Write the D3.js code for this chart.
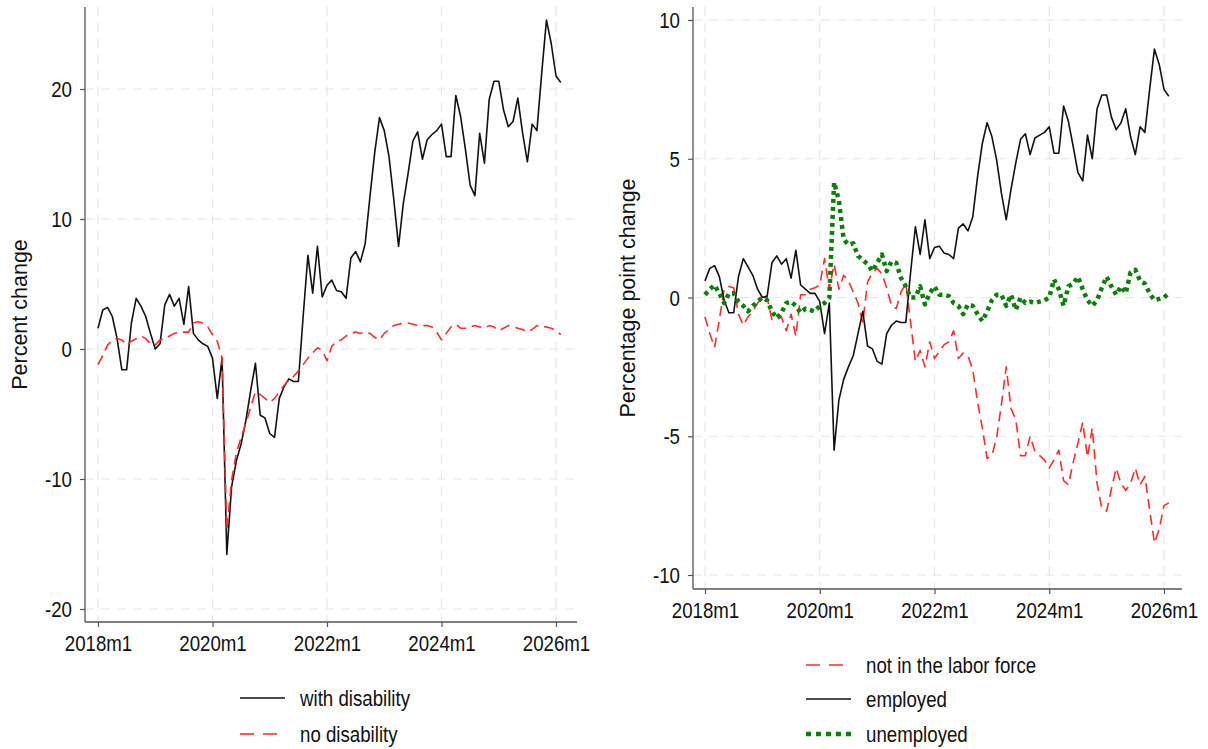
<!DOCTYPE html>
<html>
<head>
<meta charset="utf-8">
<script src="https://cdn.jsdelivr.net/npm/d3@7"></script>
<style>
  body { margin: 0; background: #fff; }
  svg { display: block; }
</style>
</head>
<body>
<svg id="chart"></svg>
<script>
// monthly series, 2018m1 .. 2026m2
const withDisability = [
  1.6, 3.0, 3.2, 2.5, 0.8, -1.6, -1.6, 2.0, 3.9, 3.3, 2.5, 1.2,
  0.0, 0.4, 3.4, 4.2, 3.3, 3.9, 1.9, 4.8, 1.2, 0.7, 0.4, 0.2,
  -0.7, -3.8, -0.7, -15.8, -10.6, -8.6, -7.3, -5.5, -3.2, -1.1, -5.1, -5.3,
  -6.5, -6.8, -3.8, -2.9, -2.3, -2.5, -2.5, 2.5, 7.2, 4.3, 7.9, 4.0,
  4.9, 5.3, 4.5, 4.4, 3.9, 7.0, 7.5, 6.7, 8.1, 11.7, 15.1, 17.8,
  16.8, 14.8, 11.5, 7.9, 11.2, 13.5, 16.0, 16.7, 14.6, 16.1, 16.5, 16.8,
  17.3, 14.8, 14.8, 19.5, 17.9, 15.4, 12.6, 11.8, 16.6, 14.3, 19.2, 20.6,
  20.6, 18.4, 17.1, 17.5, 19.3, 16.6, 14.4, 17.3, 16.8, 21.2, 25.3, 23.5,
  21.0, 20.5
];
const noDisability = [
  -1.2, -0.5, 0.3, 0.7, 0.8, 0.7, 0.3, 0.6, 0.8, 1.0, 0.8, 0.4,
  0.3, 0.7, 0.75, 1.0, 1.2, 1.3, 1.3, 1.3, 2.0, 2.1, 2.0, 1.7,
  1.1, 0.6, -0.7, -13.9, -10.1, -8.0, -6.8, -5.7, -4.5, -3.3, -3.5, -3.8,
  -4.1, -3.8, -3.3, -2.8, -2.4, -2.1, -1.7, -1.2, -0.7, -0.3, 0.1, -0.1,
  -0.9, 0.2, 0.6, 0.7, 1.0, 1.2, 1.3, 1.2, 1.3, 1.2, 0.9, 0.7,
  1.2, 1.5, 1.8, 1.9, 2.0, 2.0, 1.9, 1.8, 1.8, 1.8, 1.7, 1.3,
  0.7, 1.2, 1.7, 1.9, 1.6, 1.6, 1.7, 1.8, 1.7, 1.6, 1.8, 1.7,
  1.4, 1.6, 1.8, 1.7, 1.6, 1.5, 1.3, 1.5, 1.8, 1.7, 1.7, 1.6,
  1.4, 1.1
];
const notInLaborForce = [
  -0.7, -1.3, -1.8, -0.8, 0.3, 0.4, 0.35, -0.6, -1.0, -0.7, -0.5, -0.2,
  0.0, 0.0, -0.8, -0.8, -0.7, -1.2, -0.6, -1.4, 0.1, 0.1, 0.3, 0.35,
  0.45, 1.4, 0.3, 1.2, 0.3, 0.8, 0.6, 0.2, -0.2, -0.9, 0.55, 0.9,
  1.05, 0.85, 0.35, -0.3, -0.4, 0.2, 0.5, -0.9, -2.3, -1.9, -2.5, -1.6,
  -2.2, -1.95, -1.7, -1.6, -1.2, -2.2, -2.0, -2.1, -2.6, -3.75, -4.7, -5.8,
  -5.7, -5.05, -3.85, -2.5, -4.0, -4.4, -5.7, -5.7, -5.0, -5.55, -5.7, -5.85,
  -6.15, -5.85, -5.5, -6.6, -6.75, -5.95, -5.25, -4.5, -5.75, -4.7, -6.7, -7.6,
  -7.7, -6.9, -6.15, -6.7, -6.95, -6.7, -6.15, -6.75, -6.45, -7.65, -8.85, -8.35,
  -7.5, -7.4
];
const employed = [
  0.6, 1.05, 1.15, 0.75, -0.1, -0.55, -0.55, 0.75, 1.4, 1.1, 0.8, 0.3,
  0.0, 0.05, 1.25, 1.5, 1.2, 1.4, 0.7, 1.7, 0.45, 0.3, 0.15, 0.15,
  -0.15, -1.3, -0.2, -5.5, -3.7, -2.95, -2.5, -2.1, -1.3, -0.5, -1.75, -1.85,
  -2.3, -2.4, -1.3, -1.0, -0.85, -0.9, -0.9, 0.9, 2.55, 1.55, 2.8, 1.4,
  1.8, 1.85, 1.6, 1.55, 1.4, 2.5, 2.65, 2.4, 2.9, 4.35, 5.55, 6.3,
  5.8, 4.95, 3.75, 2.8, 3.9, 4.85, 5.7, 5.9, 5.15, 5.75, 5.85, 5.95,
  6.15, 5.2, 5.2, 6.9, 6.35, 5.45, 4.5, 4.2, 5.85, 5.0, 6.8, 7.3,
  7.3, 6.5, 6.05, 6.3, 6.8, 5.8, 5.15, 6.15, 5.95, 7.5, 8.95, 8.4,
  7.5, 7.25
];
const unemployed = [
  0.1, 0.3, 0.45, 0.15, -0.2, 0.15, 0.15, -0.15, -0.3, -0.5, -0.3, -0.15,
  0.0, -0.1, -0.5, -0.75, -0.55, -0.2, -0.15, -0.3, -0.55, -0.4, -0.45, -0.5,
  -0.3, -0.2, 0.0, 4.15, 3.5, 2.1, 1.9, 1.95, 1.5, 1.35, 1.2, 0.95,
  1.25, 1.55, 0.95, 1.3, 1.25, 0.7, 0.4, 0.0, 0.0, 0.4, -0.25, 0.15,
  0.4, 0.1, 0.1, 0.05, -0.2, -0.3, -0.6, -0.25, -0.3, -0.6, -0.85, -0.5,
  -0.1, 0.1, 0.1, -0.3, 0.1, -0.45, 0.0, -0.2, -0.15, -0.2, -0.15, -0.1,
  0.0, 0.65, 0.3, -0.3, 0.4, 0.5, 0.75, 0.3, -0.1, -0.3, -0.1, 0.35,
  0.75, 0.4, 0.1, 0.4, 0.15, 0.9, 1.0, 0.6, 0.5, 0.15, -0.1, -0.05,
  0.0, 0.15
];

const xTickMonths = [0, 24, 48, 72, 96];
const xTickLabels = ["2018m1", "2020m1", "2022m1", "2024m1", "2026m1"];
const leftYTicks = [-20, -10, 0, 10, 20];
const rightYTicks = [-10, -5, 0, 5, 10];

const font = "'Liberation Sans', Arial, sans-serif";
const RED = "#ff2a2a", GREEN = "#0a800a", INK = "#111";
const SQUEEZE = 0.83;

const width = 1208, height = 749;
const svg = d3.select("#chart").attr("width", width).attr("height", height);
svg.append("rect").attr("width", width).attr("height", height).attr("fill", "#fff");

// horizontal texts in the original are narrow; squeeze them to fit
function squeeze(sel) {
  sel.each(function () {
    const w = this.getComputedTextLength();
    d3.select(this).attr("textLength", w * SQUEEZE).attr("lengthAdjust", "spacingAndGlyphs");
  });
}

function drawPanel(p) {
  const g = svg.append("g");
  const x = d3.scaleLinear().domain([0, 96]).range([p.xStart, p.xEnd]);
  const y = d3.scaleLinear().domain(p.yDomain).range(p.yRange);

  // grid
  g.selectAll(".hgrid").data(p.yTicks).enter().append("line")
    .attr("x1", p.left).attr("x2", p.right)
    .attr("y1", d => y(d)).attr("y2", d => y(d))
    .attr("stroke", "#e6e6e6").attr("stroke-width", 1.2).attr("stroke-dasharray", "9,7");
  g.selectAll(".vgrid").data(xTickMonths).enter().append("line")
    .attr("x1", d => x(d)).attr("x2", d => x(d))
    .attr("y1", p.top).attr("y2", p.bottom)
    .attr("stroke", "#e6e6e6").attr("stroke-width", 1.2).attr("stroke-dasharray", "9,7");

  // axes
  const ya = g.append("g").attr("transform", `translate(${p.left},0)`)
    .call(d3.axisLeft(y).tickValues(p.yTicks).tickSize(5).tickPadding(8).tickFormat(d => String(d)));
  ya.select(".domain").remove();
  const xa = g.append("g").attr("transform", `translate(0,${p.bottom})`)
    .call(d3.axisBottom(x).tickValues(xTickMonths).tickSize(5).tickPadding(6).tickFormat((d, i) => xTickLabels[i]));
  xa.select(".domain").remove();
  [ya, xa].forEach(a => {
    a.selectAll("line").attr("stroke", "#555").attr("stroke-width", 1.2);
    a.selectAll("text").attr("fill", INK).style("font-family", font).style("font-size", "22.5px");
  });
  ya.selectAll("text").attr("dy", "0.34em");
  xa.selectAll("text").attr("y", 29).attr("dy", 0);
  squeeze(ya.selectAll("text"));
  squeeze(xa.selectAll("text"));

  g.append("line").attr("x1", p.left).attr("x2", p.left).attr("y1", p.top).attr("y2", p.bottom)
    .attr("stroke", "#555").attr("stroke-width", 1.3);
  g.append("line").attr("x1", p.left).attr("x2", p.right).attr("y1", p.bottom).attr("y2", p.bottom)
    .attr("stroke", "#555").attr("stroke-width", 1.3);

  g.append("text")
    .attr("transform", `translate(${p.titleX},${(p.top + p.bottom) / 2}) rotate(-90)`)
    .attr("text-anchor", "middle").attr("dy", "0.35em")
    .attr("fill", INK).style("font-family", font).style("font-size", "21.5px")
    .text(p.title);

  const line = d3.line().x((d, i) => x(i)).y(d => y(d));
  p.series.forEach(s => {
    g.append("path").datum(s.values)
      .attr("d", line).attr("fill", "none")
      .attr("stroke", s.color).attr("stroke-width", s.width)
      .attr("stroke-dasharray", s.dash || null)
      .attr("stroke-linejoin", "round");
  });

  // legend
  p.legend.forEach((s, i) => {
    const ly = p.legendY[i];
    g.append("line").attr("x1", p.legendX).attr("x2", p.legendX + 45)
      .attr("y1", ly).attr("y2", ly)
      .attr("stroke", s.color).attr("stroke-width", s.width)
      .attr("stroke-dasharray", s.legendDash || s.dash || null);
    g.append("text").attr("x", p.legendX + 60).attr("y", ly).attr("dy", "0.36em")
      .attr("fill", INK).style("font-family", font).style("font-size", "22.5px")
      .text(s.label)
      .call(squeeze);
  });
}

const sWith = { label: "with disability", values: withDisability, color: INK, width: 1.6 };
const sNo = { label: "no disability", values: noDisability, color: RED, width: 1.6, dash: "10,6", legendDash: "14,9" };
const sNilf = { label: "not in the labor force", values: notInLaborForce, color: RED, width: 1.6, dash: "10,6", legendDash: "14,9" };
const sEmp = { label: "employed", values: employed, color: INK, width: 1.6 };
const sUnemp = { label: "unemployed", values: unemployed, color: GREEN, width: 4.5, dash: "4,4", legendDash: "5,5" };

drawPanel({
  left: 85, right: 577, top: 7, bottom: 622,
  xStart: 98, xEnd: 556,
  yDomain: [-20, 20], yRange: [609, 89], yTicks: leftYTicks,
  title: "Percent change", titleX: 19,
  series: [sWith, sNo],
  legend: [sWith, sNo], legendX: 240, legendY: [698, 734]
});

drawPanel({
  left: 693, right: 1182, top: 7, bottom: 589,
  xStart: 705, xEnd: 1164,
  yDomain: [-10, 10], yRange: [575, 20], yTicks: rightYTicks,
  title: "Percentage point change", titleX: 627,
  series: [sNilf, sEmp, sUnemp],
  legend: [sNilf, sEmp, sUnemp], legendX: 806, legendY: [665, 699, 734]
});
</script>
</body>
</html>
